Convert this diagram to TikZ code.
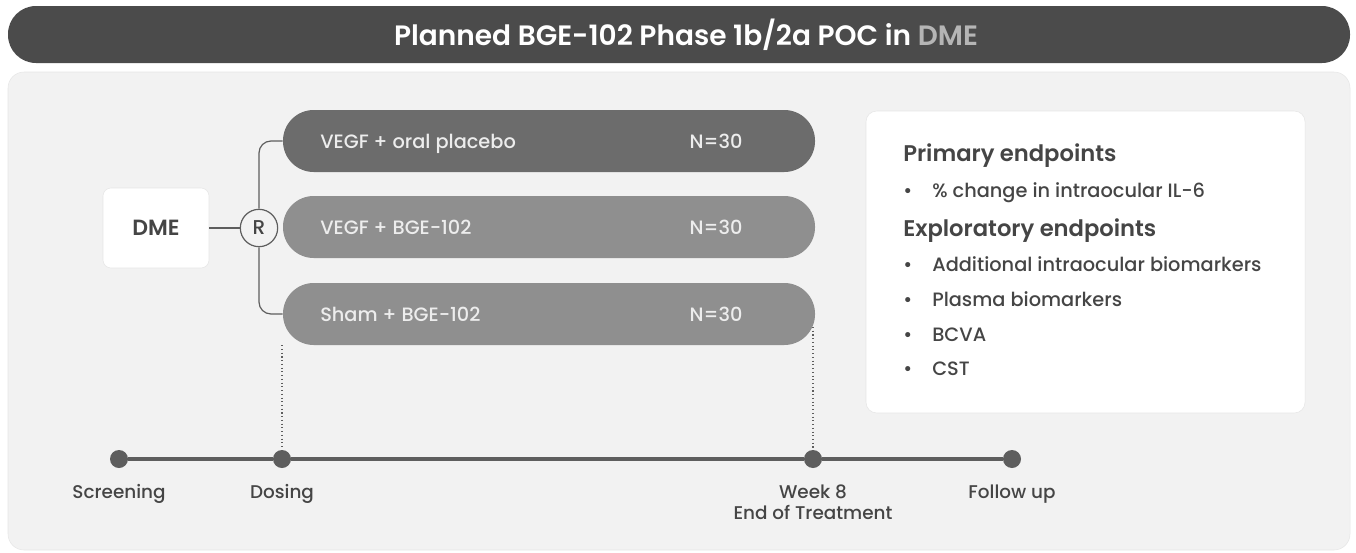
\documentclass[tikz,border=0pt]{standalone}
\usepackage{fontspec}
\setmainfont{Poppins}[BoldFont={* SemiBold}]
\newfontfamily\popmed{Poppins Medium}
\definecolor{titlegray}{HTML}{4B4B4B}
\definecolor{panelgray}{HTML}{F2F2F2}
\definecolor{paneledge}{HTML}{E6E6E6}
\definecolor{armdark}{HTML}{6C6C6C}
\definecolor{armlight}{HTML}{8F8F8F}
\definecolor{armtext}{HTML}{EDEDED}
\definecolor{textgray}{HTML}{454545}
\definecolor{linegray}{HTML}{5E5E5E}
\definecolor{dmegray}{HTML}{B5B5B5}
\newcommand{\px}[1]{\fontsize{#1pt}{1.2\dimexpr#1pt\relax}\selectfont}
\tikzset{
  arm/.style={rectangle, rounded corners=23pt, minimum width=399pt, minimum height=46.5pt, inner sep=0pt},
  armlabel/.style={anchor=base west, inner sep=0pt, text=armtext, font=\popmed\px{14.5}},
  dot/.style={circle, fill=linegray, minimum size=13.5pt, inner sep=0pt},
  tlabel/.style={anchor=base, inner sep=0pt, text=textgray, align=center,
    font=\popmed\fontsize{13.8pt}{15.75pt}\selectfont},
  endtext/.style={anchor=base west, inner sep=0pt, text=textgray, font=\popmed\px{14.5}},
  endhead/.style={anchor=base west, inner sep=0pt, text=textgray, font=\bfseries\px{17}}
}
\begin{document}
\begin{tikzpicture}[x=0.75pt,y=-0.75pt]
\useasboundingbox (0,0) rectangle (1356,553);
% title bar
\fill[titlegray, rounded corners=21pt] (8,6) rectangle (1350,63);
\node[text=white, font=\bfseries\px{21}] (title) at (686,35)
  {Planned BGE-102 Phase 1b/2a POC in \textcolor{dmegray}{DME}};
% panel
\draw[paneledge, fill=panelgray, rounded corners=12pt] (8,72) rectangle (1350,550);

% arms
\node[arm, fill=armdark] (arm1) at (549,141) {};
\node[arm, fill=armlight] (arm2) at (549,227) {};
\node[arm, fill=armlight] (arm3) at (549,314) {};
\node[armlabel] (arm1txt) at (320,148) {VEGF + oral placebo};
\node[armlabel] (arm2txt) at (320,234) {VEGF + BGE-102};
\node[armlabel] (arm3txt) at (320,321) {Sham + BGE-102};
\node[armlabel, anchor=base] (arm1n) at (716,148) {N=30};
\node[armlabel, anchor=base] (arm2n) at (716,234) {N=30};
\node[armlabel, anchor=base] (arm3n) at (716,321) {N=30};

% DME and randomisation
\node[draw=paneledge, fill=white, rounded corners=6pt, minimum width=79.5pt, minimum height=60pt,
  text=textgray, font=\bfseries\px{16.5}] (dme) at (156,228) {DME};
\node[draw=linegray, fill=panelgray, circle, line width=0.9pt, minimum size=28pt, inner sep=0pt,
  text=textgray, font=\popmed\px{15}] (rand) at (259,228) {R};
\draw[linegray, line width=0.9pt] (dme.east) -- (rand.west);
\draw[linegray, line width=0.9pt, rounded corners=9pt] (rand.north) |- (arm1.west);
\draw[linegray, line width=0.9pt, rounded corners=9pt] (rand.south) |- (arm3.west);

% timeline
\node[dot] (scr) at (119,459) {};
\node[dot] (dos) at (282,459) {};
\node[dot] (wk8) at (813,459) {};
\node[dot] (fup) at (1012,459) {};
\draw[linegray, line width=2.6pt] (scr) -- (dos) -- (wk8) -- (fup);
\coordinate (armend) at (813,327);
\draw[linegray, dotted, line width=0.8pt] (dos.north |- arm3.south) -- (dos.north);
\draw[linegray, dotted, line width=0.8pt] (armend) -- (wk8.north);
\node[tlabel] (scrlbl) at (119,498) {Screening};
\node[tlabel] (doslbl) at (282,498) {Dosing};
\node[tlabel] (wk8lbl) at (813,519) {Week 8\\End of Treatment};
\node[tlabel] (fuplbl) at (1012,498) {Follow up};

% endpoints
\draw[paneledge, fill=white, rounded corners=8pt] (866,111) rectangle (1305,413);
\node[endhead] (prim) at (903,161) {Primary endpoints};
\node[endtext] (b1) at (903,197) {\textbullet};
\node[endtext] (p1) at (932,197) {\% change in intraocular IL-6};
\node[endhead] (expl) at (903,236) {Exploratory endpoints};
\node[endtext] (b2) at (903,271) {\textbullet};
\node[endtext] (e1) at (932,271) {Additional intraocular biomarkers};
\node[endtext] (b3) at (903,306) {\textbullet};
\node[endtext] (e2) at (932,306) {Plasma biomarkers};
\node[endtext] (b4) at (903,341) {\textbullet};
\node[endtext] (e3) at (932,341) {BCVA};
\node[endtext] (b5) at (903,375) {\textbullet};
\node[endtext] (e4) at (932,375) {CST};
\end{tikzpicture}
\end{document}
